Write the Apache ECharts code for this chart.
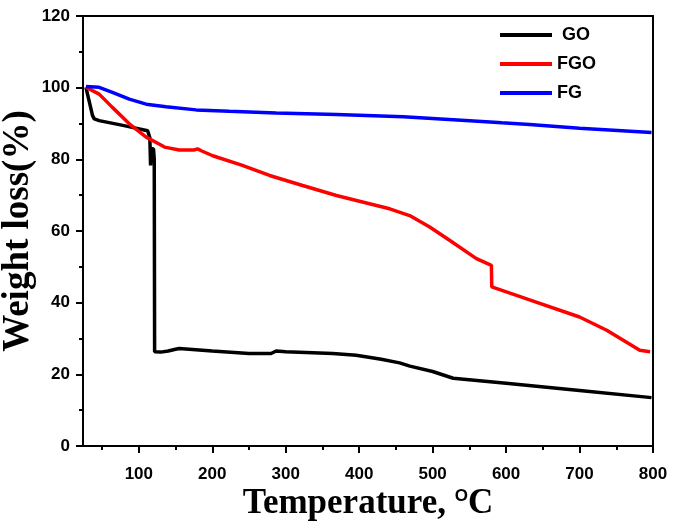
<!DOCTYPE html>
<html>
<head>
<meta charset="utf-8">
<script src="https://cdn.jsdelivr.net/npm/echarts@6/dist/echarts.min.js"></script>
<style>html,body{margin:0;padding:0;background:#fff}#c{width:675px;height:532px}</style>
</head>
<body>
<div id="c"></div>
<script>
var seriesNames = ['GO', 'FGO', 'FG'];
var seriesColors = ['#000000', '#ff0000', '#0000ff'];
var goData = [[28,100.1],[37,92.2],[39.3,91.3],[46,90.8],[80,89.4],[112,88],[114.3,87.6],[115,86],[116,78.3],[117,83],[120,82.9],[121,80],[121.5,26.3],[130,26.2],[140,26.5],[150,27],[155,27.2],[200,26.5],[250,25.8],[280,25.8],[287,26.5],[300,26.3],[364,25.8],[396,25.3],[430,24.2],[455,23.2],[469,22.3],[500,20.8],[528,18.9],[600,17.5],[700,15.5],[798,13.5]];
var fgoData = [[28,100.1],[46,98.2],[64,94.5],[87,89.9],[110,86.2],[132,83.8],[135,83.4],[136,83.9],[155,82.6],[175,82.6],[180,82.9],[185,82.4],[200.6,81],[240,78.4],[278,75.5],[323,72.7],[369,69.9],[414,67.6],[441.5,66.2],[468.7,64.3],[496,61.1],[523,57.4],[559.6,52.3],[580,50.4],[580.5,44.4],[632,40.8],[700,36],[737,32.3],[759.5,29.5],[782,26.7],[796,26.3]];
var fgData = [[28,100.3],[46,100.1],[64,98.7],[87,96.8],[110,95.4],[137,94.7],[178,93.8],[223,93.4],[287,92.9],[369,92.5],[460,91.9],[550.5,90.8],[589,90.3],[591,89.9],[594,90.2],[632,89.7],[700,88.7],[798,87.5]];
var xLabelValues = [100,200,300,400,500,600,700,800];
var xMinorValues = [50,150,250,350,450,550,650,750];
var yTicks = [0,20,40,60,80,100,120];

var chart = echarts.init(document.getElementById('c'));
var lblFont = {fontFamily:'Liberation Sans, Arial', fontWeight:'bold', fontSize:17, color:'#000'};
var axLine = {show:true, lineStyle:{color:'#000', width:2}};
var option = {
  animation:false,
  grid:{left:83, right:22, top:16, bottom:86, containLabel:false, outerBoundsMode:'none'},
  legend:{
    orient:'vertical', left:495, top:21, itemWidth:52, itemHeight:4, itemGap:11, icon:'rect',
    data:seriesNames,
    textStyle:{fontFamily:'Liberation Sans, Arial', fontWeight:'bold', fontSize:18, color:'#000'},
    formatter:function(n){return n==='GO' ? ' GO' : n;}
  },
  xAxis:[
    {type:'value', min:24, max:800, position:'bottom',
     axisLine:axLine, splitLine:{show:false},
     axisTick:{show:true, length:7, lineStyle:{color:'#000', width:2}, customValues:xLabelValues},
     axisLabel:Object.assign({margin:20, customValues:xLabelValues}, lblFont),
     name:'{a|Temperature, }{b|O}{a|C}', nameLocation:'middle', nameGap:40, nameMoveOverlap:false,
     nameTextStyle:{rich:{
       a:{fontFamily:'Liberation Serif, Times New Roman', fontWeight:'bold', fontSize:35, color:'#000', verticalAlign:'bottom'},
       b:{fontFamily:'Liberation Sans, Arial', fontWeight:'bold', fontSize:17, color:'#000', verticalAlign:'top', padding:[2,0,0,0]}
     }}
    },
    {type:'value', min:24, max:800, position:'bottom',
     axisLine:{show:false}, splitLine:{show:false},
     axisTick:{show:true, length:4, lineStyle:{color:'#000', width:2}, customValues:xMinorValues},
     axisLabel:{show:false}},
    {type:'value', min:24, max:800, position:'top',
     axisLine:axLine, splitLine:{show:false}, axisTick:{show:false}, axisLabel:{show:false}}
  ],
  yAxis:[
    {type:'value', min:0, max:120, interval:20, position:'left',
     axisLine:axLine, splitLine:{show:false},
     axisTick:{show:true, length:7, lineStyle:{color:'#000', width:2}},
     minorTick:{show:true, splitNumber:2, length:4, lineStyle:{color:'#000', width:2}},
     axisLabel:Object.assign({margin:13, customValues:yTicks}, lblFont),
     name:'Weight loss(%)', nameLocation:'middle', nameGap:46, nameRotate:90, nameMoveOverlap:false,
     nameTextStyle:{fontFamily:'Liberation Serif, Times New Roman', fontWeight:'bold', fontSize:37, color:'#000'}
    },
    {type:'value', min:0, max:120, position:'right',
     axisLine:axLine, splitLine:{show:false}, axisTick:{show:false}, axisLabel:{show:false}}
  ],
  series:[
    {name:seriesNames[0], type:'line', data:goData, showSymbol:false, symbol:'none', lineStyle:{width:3.5, color:seriesColors[0]}, itemStyle:{color:seriesColors[0]}},
    {name:seriesNames[1], type:'line', data:fgoData, showSymbol:false, symbol:'none', lineStyle:{width:3.5, color:seriesColors[1]}, itemStyle:{color:seriesColors[1]}},
    {name:seriesNames[2], type:'line', data:fgData, showSymbol:false, symbol:'none', lineStyle:{width:3.5, color:seriesColors[2]}, itemStyle:{color:seriesColors[2]}}
  ]
};
chart.setOption(option);
</script>
</body>
</html>
